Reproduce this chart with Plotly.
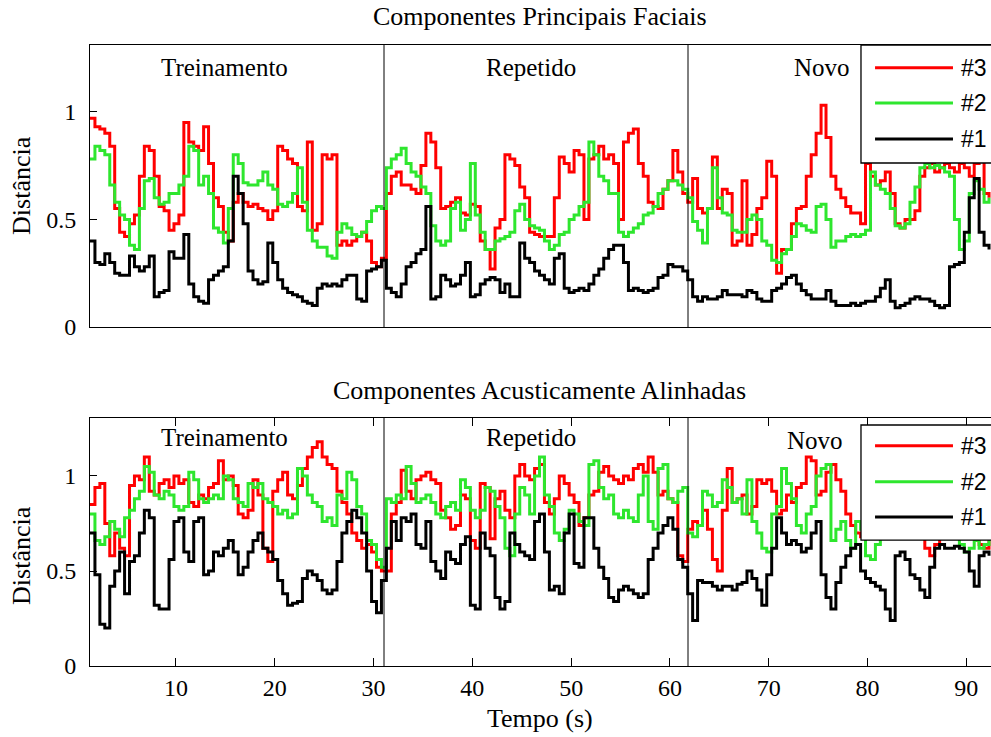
import plotly.graph_objects as go

# ---------------- data ----------------
# time base: one sample every 0.5 s starting at t = 1.3 s
T0 = 1.3
DT = 0.5

series_names = ["#3", "#2", "#1"]
series_colors = ["#ff0000", "#2ee62e", "#000000"]

segment_labels = ["Treinamento", "Repetido", "Novo"]
segment_bounds = [31.06, 61.83]

panel_titles = ["Componentes Principais Faciais", "Componentes Acusticamente Alinhadas"]
y_label = "Distância"
x_label = "Tempo (s)"

# Top panel: Componentes Principais Faciais
facial_3 = [
    0.97, 0.93, 0.92, 0.90, 0.84, 0.55, 0.44, 0.42, 0.48, 0.52,
    0.70, 0.84, 0.82, 0.70, 0.56, 0.54, 0.45, 0.48, 0.52, 0.95,
    0.86, 0.84, 0.82, 0.93, 0.76, 0.60, 0.56, 0.44, 0.40, 0.58,
    0.62, 0.58, 0.56, 0.57, 0.55, 0.54, 0.50, 0.54, 0.84, 0.82,
    0.78, 0.76, 0.56, 0.54, 0.86, 0.45, 0.48, 0.80, 0.78, 0.80,
    0.38, 0.40, 0.38, 0.40, 0.42, 0.44, 0.40, 0.30, 0.28, 0.32,
    0.62, 0.70, 0.72, 0.66, 0.66, 0.64, 0.62, 0.75, 0.90, 0.86,
    0.74, 0.55, 0.56, 0.58, 0.60, 0.53, 0.52, 0.57, 0.56, 0.40,
    0.36, 0.27, 0.46, 0.50, 0.80, 0.78, 0.75, 0.65, 0.60, 0.44,
    0.43, 0.42, 0.42, 0.42, 0.60, 0.79, 0.76, 0.72, 0.82, 0.80,
    0.50, 0.78, 0.80, 0.84, 0.78, 0.80, 0.76, 0.50, 0.86, 0.90,
    0.92, 0.76, 0.70, 0.58, 0.56, 0.55, 0.64, 0.68, 0.82, 0.72,
    0.62,
    0.58, 0.69, 0.55, 0.53, 0.55, 0.79, 0.55, 0.64, 0.62, 0.38,
    0.40, 0.68, 0.38, 0.43, 0.55, 0.60, 0.77, 0.70, 0.25, 0.36,
    0.36, 0.48, 0.55, 0.56, 0.70, 0.80, 0.90, 1.03, 0.88, 0.70,
    0.64, 0.60, 0.56, 0.53, 0.53, 0.48, 0.76, 0.70, 0.66, 0.68,
    0.72, 0.62, 0.48, 0.46, 0.50, 0.50, 0.54, 0.70, 0.74, 0.76,
    0.72, 0.74, 0.76, 0.74, 0.72, 0.76, 0.74, 0.70, 0.76, 0.78,
    0.62, 0.60,
]
facial_2 = [
    0.78, 0.84, 0.82, 0.80, 0.66, 0.58, 0.52, 0.50, 0.38, 0.36,
    0.55, 0.68, 0.69, 0.60, 0.57, 0.58, 0.62, 0.62, 0.66, 0.70,
    0.84, 0.82, 0.66, 0.70, 0.62, 0.46, 0.44, 0.39, 0.55, 0.80,
    0.76, 0.67, 0.66, 0.66, 0.68, 0.72, 0.66, 0.64, 0.57, 0.56,
    0.58, 0.62, 0.74, 0.58, 0.45, 0.40, 0.37, 0.37, 0.33, 0.32,
    0.44, 0.48, 0.46, 0.43, 0.42, 0.44, 0.49, 0.54, 0.56, 0.55,
    0.74, 0.78, 0.80, 0.83, 0.76, 0.72, 0.70, 0.65, 0.62, 0.47,
    0.40, 0.38, 0.40, 0.55, 0.58, 0.45, 0.50, 0.76, 0.52, 0.44,
    0.36, 0.36, 0.40, 0.41, 0.42, 0.44, 0.54, 0.57, 0.50, 0.47,
    0.46, 0.45, 0.40, 0.36, 0.38, 0.43, 0.44, 0.50, 0.52, 0.56,
    0.58, 0.86, 0.80, 0.70, 0.68, 0.62, 0.62, 0.44, 0.42, 0.44,
    0.46, 0.48, 0.52, 0.53, 0.56, 0.62, 0.64, 0.68, 0.68, 0.66,
    0.64,
    0.60, 0.49, 0.45, 0.39, 0.55, 0.74, 0.60, 0.53, 0.52, 0.45,
    0.44, 0.44, 0.50, 0.52, 0.50, 0.40, 0.38, 0.31, 0.30, 0.34,
    0.36, 0.42, 0.48, 0.47, 0.45, 0.44, 0.56, 0.57, 0.50, 0.37,
    0.40, 0.40, 0.42, 0.43, 0.42, 0.43, 0.45, 0.72, 0.66, 0.64,
    0.62, 0.55, 0.47, 0.46, 0.48, 0.58, 0.65, 0.74, 0.76, 0.74,
    0.75, 0.74, 0.72, 0.70, 0.50, 0.36, 0.40, 0.62, 0.68, 0.64,
    0.58, 0.60,
]
facial_1 = [
    0.40, 0.30, 0.29, 0.34, 0.30, 0.25, 0.24, 0.24, 0.33, 0.28,
    0.26, 0.28, 0.33, 0.14, 0.16, 0.17, 0.35, 0.32, 0.32, 0.43,
    0.20, 0.14, 0.12, 0.11, 0.22, 0.24, 0.26, 0.28, 0.40, 0.70,
    0.62, 0.48, 0.26, 0.22, 0.20, 0.21, 0.39, 0.30, 0.22, 0.18,
    0.16, 0.15, 0.14, 0.12, 0.11, 0.10, 0.18, 0.20, 0.19, 0.20,
    0.19, 0.22, 0.24, 0.24, 0.13, 0.12, 0.26, 0.27, 0.28, 0.31,
    0.18, 0.16, 0.14, 0.20, 0.28, 0.30, 0.34, 0.36, 0.56, 0.13,
    0.14, 0.24, 0.22, 0.19, 0.20, 0.24, 0.30, 0.14, 0.15, 0.20,
    0.22, 0.23, 0.22, 0.16, 0.20, 0.14, 0.14, 0.39, 0.32, 0.30,
    0.26, 0.24, 0.22, 0.20, 0.32, 0.34, 0.18, 0.16, 0.17, 0.18,
    0.17, 0.20, 0.24, 0.27, 0.32, 0.36, 0.38, 0.38, 0.30, 0.17,
    0.18, 0.17, 0.16, 0.17, 0.18, 0.23, 0.24, 0.29, 0.28, 0.28,
    0.26,
    0.22, 0.14, 0.12, 0.14, 0.13, 0.13, 0.14, 0.17, 0.15, 0.15,
    0.15, 0.14, 0.17, 0.16, 0.13, 0.12, 0.12, 0.17, 0.18, 0.20,
    0.23, 0.24, 0.20, 0.17, 0.15, 0.13, 0.13, 0.13, 0.17, 0.12,
    0.10, 0.10, 0.10, 0.11, 0.10, 0.11, 0.12, 0.12, 0.14, 0.18,
    0.22, 0.12, 0.09, 0.10, 0.11, 0.13, 0.14, 0.13, 0.13, 0.12,
    0.10, 0.09, 0.10, 0.28, 0.29, 0.30, 0.44, 0.60, 0.69, 0.44,
    0.38, 0.36,
]

# Bottom panel: Componentes Acusticamente Alinhadas
acoustic_3 = [
    0.85, 0.94, 0.96, 0.75, 0.58, 0.70, 0.62, 0.58, 0.95, 1.00,
    0.98, 1.10, 0.92, 0.90, 0.96, 0.98, 0.94, 1.00, 0.96, 0.98,
    0.86, 0.84, 0.90, 0.88, 0.94, 0.96, 1.08, 0.98, 1.00, 0.95,
    0.80, 0.78, 0.82, 0.98, 0.90, 0.62, 0.55, 0.92, 0.98, 1.02,
    0.90, 0.88, 0.95, 1.04, 1.10, 1.15, 1.18, 1.10, 1.06, 1.04,
    0.92, 0.86, 0.80, 0.70, 0.66, 0.62, 0.64, 0.60, 0.52, 0.50,
    0.50, 0.80, 0.86, 1.03, 0.92, 0.88, 0.98, 1.00, 1.02, 0.98,
    0.96, 0.82, 0.78, 0.72, 0.74, 0.90, 0.88, 0.66, 0.62, 0.96,
    0.94, 0.67, 0.88, 0.92, 0.82, 0.78, 1.00, 1.06, 1.00, 0.98,
    1.04, 1.06, 0.86, 0.80, 0.88, 1.00, 0.96, 0.90, 0.86, 0.74,
    0.78, 0.90, 0.92, 1.02, 1.05, 1.00, 0.98, 0.96, 1.00, 0.98,
    1.04, 1.06, 1.02, 1.10, 1.02, 0.90, 0.92, 0.88, 0.86, 0.58,
    0.55,
    0.72, 0.76, 0.74, 0.82, 0.72, 0.56, 0.50, 0.82, 1.04, 0.86,
    0.88, 0.90, 0.80, 0.84, 0.98, 0.96, 0.98, 0.92, 0.80, 0.82,
    0.90, 0.86, 0.94, 0.96, 1.10, 1.08, 0.90, 0.92, 1.02, 1.06,
    0.98, 0.92, 0.80, 0.74, 0.70, 0.68, 0.72, 0.76, 0.80, 0.78,
    0.74, 0.76, 0.72, 0.70, 0.74, 0.78, 0.76, 0.70, 0.62, 0.58,
    0.64, 0.72, 0.76, 0.74, 0.70, 0.68, 0.72, 0.74, 0.70, 0.64,
    0.62, 0.66,
]
acoustic_2 = [
    0.80, 0.66, 0.64, 0.68, 0.76, 0.72, 0.68, 0.78, 0.82, 0.88,
    0.92, 1.05, 1.02, 0.90, 0.88, 0.92, 0.90, 0.84, 0.82, 0.84,
    1.02, 0.98, 0.88, 0.86, 0.88, 0.90, 0.88, 1.00, 0.98, 0.88,
    0.86, 0.84, 0.96, 0.94, 0.96, 0.88, 0.86, 0.84, 0.80, 0.82,
    0.78, 0.80, 1.04, 1.00, 0.90, 0.86, 0.84, 0.76, 0.78, 0.74,
    0.90, 0.88, 1.02, 0.98, 0.84, 0.80, 0.66, 0.64, 0.56, 0.52,
    0.88, 0.86, 0.90, 0.88, 1.05, 0.96, 0.86, 0.88, 0.90, 0.86,
    0.80, 0.78, 0.84, 0.86, 0.82, 0.98, 0.94, 0.82, 0.78, 0.82,
    0.94, 0.92, 0.84, 0.78, 0.62, 0.58, 0.80, 0.94, 0.90, 0.80,
    1.00, 1.10, 0.90, 0.84, 0.70, 0.66, 0.72, 0.82, 0.80, 0.76,
    0.74, 1.06, 1.08, 0.94, 0.88, 0.90, 0.80, 0.78, 0.82, 0.78,
    0.76, 0.90, 1.00, 0.76, 0.72, 1.04, 1.06, 0.88, 0.86, 0.92,
    0.94,
    0.70, 0.68, 0.74, 0.92, 0.90, 0.84, 0.86, 0.98, 0.94, 0.86,
    0.88, 0.80, 0.98, 0.76, 0.70, 0.62, 0.60, 0.80, 0.84, 1.04,
    0.96, 0.88, 0.74, 0.70, 0.80, 0.84, 1.00, 1.04, 1.06, 0.66,
    0.72, 0.76, 0.66, 0.62, 0.76, 0.72, 0.58, 0.56, 0.64, 0.70,
    0.72, 0.74, 0.76, 0.78, 0.74, 0.72, 0.76, 0.74, 0.70, 0.72,
    0.74, 0.76, 0.72, 0.70, 0.68, 0.64, 0.60, 0.62, 0.66, 0.62,
    0.64, 0.68,
]
acoustic_1 = [
    0.70, 0.48, 0.22, 0.20, 0.42, 0.50, 0.60, 0.38, 0.55, 0.58,
    0.70, 0.82, 0.78, 0.32, 0.30, 0.30, 0.56, 0.76, 0.78, 0.60,
    0.55, 0.76, 0.78, 0.48, 0.50, 0.60, 0.58, 0.62, 0.66, 0.60,
    0.48, 0.52, 0.60, 0.66, 0.70, 0.62, 0.60, 0.56, 0.45, 0.38,
    0.32, 0.33, 0.34, 0.46, 0.50, 0.48, 0.45, 0.40, 0.38, 0.40,
    0.55, 0.70, 0.76, 0.82, 0.78, 0.70, 0.50, 0.34, 0.28, 0.45,
    0.62, 0.76, 0.66, 0.78, 0.76, 0.80, 0.64, 0.62, 0.76, 0.55,
    0.50, 0.46, 0.60, 0.56, 0.54, 0.64, 0.68, 0.32, 0.30, 0.70,
    0.62, 0.58, 0.36, 0.30, 0.34, 0.70, 0.64, 0.60, 0.58, 0.56,
    0.76, 0.80, 0.60, 0.40, 0.42, 0.38, 0.70, 0.80, 0.54, 0.52,
    0.78, 0.78, 0.62, 0.52, 0.46, 0.36, 0.34, 0.40, 0.42, 0.40,
    0.38, 0.36, 0.38, 0.56, 0.62, 0.70, 0.74, 0.78, 0.72, 0.56,
    0.52,
    0.38, 0.24, 0.45, 0.44, 0.44, 0.42, 0.40, 0.42, 0.42, 0.40,
    0.43, 0.44, 0.50, 0.46, 0.40, 0.32, 0.48, 0.62, 0.78, 0.70,
    0.64, 0.66, 0.64, 0.60, 0.62, 0.70, 0.76, 0.48, 0.36, 0.30,
    0.44, 0.52, 0.58, 0.62, 0.64, 0.50, 0.46, 0.44, 0.42, 0.40,
    0.30, 0.24, 0.58, 0.60, 0.56, 0.48, 0.46, 0.40, 0.36, 0.52,
    0.62, 0.64, 0.62, 0.62, 0.63, 0.62, 0.60, 0.50, 0.42, 0.58,
    0.60, 0.58,
]

panels = [
    [facial_3, facial_2, facial_1],
    [acoustic_3, acoustic_2, acoustic_1],
]

# ---------------- figure ----------------
SERIF = "Liberation Serif, Times New Roman, serif"
SANS = "Liberation Sans, Arial, sans-serif"
LINE_W = 3

fig = go.Figure()
axis_ids = [("x", "y"), ("x2", "y2")]
for (xa, ya), series in zip(axis_ids, panels):
    for name, color, vals in zip(series_names, series_colors, series):
        t = [round(T0 + DT * i, 3) for i in range(len(vals))]
        fig.add_trace(go.Scatter(
            x=t, y=vals, mode="lines", name=name,
            line=dict(color=color, width=LINE_W, shape="hv"),
            xaxis=xa, yaxis=ya, showlegend=False, hoverinfo="x+y+name",
        ))

X_RANGE = [1.3, 92.5]
common_x = dict(range=X_RANGE, showgrid=False, zeroline=False, showline=True,
                linecolor="black", linewidth=1, domain=[0, 1])
common_y = dict(showgrid=False, zeroline=False, showline=True, linecolor="black",
                linewidth=1, ticks="inside", ticklen=7, tickcolor="black",
                tickvals=[0, 0.5, 1], ticktext=["0", "0.5", "1"],
                tickfont=dict(family=SERIF, size=24, color="black"),
                ticklabelstandoff=8)

fig.update_layout(
    width=991, height=737,
    margin=dict(l=90, r=0, t=0, b=0, autoexpand=False),
    paper_bgcolor="white", plot_bgcolor="white",
    showlegend=False,
    xaxis=dict(**common_x, anchor="y", mirror=True, ticks="", showticklabels=False),
    yaxis=dict(**common_y, domain=[0.5563, 0.9389], range=[0, 1.31], anchor="x"),
    xaxis2=dict(**common_x, anchor="y2", mirror="ticks", ticks="inside", ticklen=8,
                tickcolor="black", tick0=0, dtick=10,
                tickfont=dict(family=SERIF, size=24, color="black"),
                ticklabelstandoff=0),
    yaxis2=dict(**common_y, domain=[0.0963, 0.4328], range=[0, 1.305], anchor="x2"),
)

shapes = []
annotations = []

# segment dividers
for xa, ya in axis_ids:
    for b in segment_bounds:
        shapes.append(dict(type="line", xref=xa, yref=f"{ya} domain", x0=b, x1=b, y0=0, y1=1,
                           line=dict(color="black", width=1), layer="above"))

# segment labels
label_pos = {
    "y": ([14.96, 45.94, 75.4], [1.205, 1.205, 1.205]),
    "y2": ([14.96, 45.94, 74.7], [1.20, 1.20, 1.185]),
}
for xa, ya in axis_ids:
    xs, ys = label_pos[ya]
    for lab, lx, ly in zip(segment_labels, xs, ys):
        annotations.append(dict(text=lab, xref=xa, yref=ya, x=lx, y=ly, showarrow=False,
                                xanchor="center", yanchor="middle",
                                font=dict(family=SERIF, size=25, color="black")))

# legends (drawn as boxes in each panel, clipped at the right edge like the original)
legend_geom = {
    "y": dict(box=(0.8557, 1.08, 0.5816, 1.0), rows=[0.9195, 0.7943, 0.6667]),
    "y2": dict(box=(0.8557, 1.08, 0.508, 0.9718), rows=[0.888, 0.743, 0.601]),
}
for xa, ya in axis_ids:
    g = legend_geom[ya]
    bx0, bx1, by0, by1 = g["box"]
    shapes.append(dict(type="rect", xref=f"{xa} domain", yref=f"{ya} domain",
                       x0=bx0, x1=bx1, y0=by0, y1=by1,
                       line=dict(color="black", width=1.3), fillcolor="white", layer="above"))
    for name, color, ry in zip(series_names, series_colors, g["rows"]):
        shapes.append(dict(type="line", xref=f"{xa} domain", yref=f"{ya} domain",
                           x0=0.8713, x1=0.9578, y0=ry, y1=ry,
                           line=dict(color=color, width=LINE_W), layer="above"))
        annotations.append(dict(text=name, xref=f"{xa} domain", yref=f"{ya} domain",
                                x=0.9645, y=ry, showarrow=False, xanchor="left", yanchor="middle",
                                font=dict(family=SANS, size=23, color="black")))

# panel titles and axis labels
annotations.append(dict(text=panel_titles[0], xref="paper", yref="paper", x=0.4994, y=0.977,
                        showarrow=False, xanchor="center", yanchor="middle",
                        font=dict(family=SERIF, size=26, color="black")))
annotations.append(dict(text=panel_titles[1], xref="paper", yref="paper", x=0.4994, y=0.4695,
                        showarrow=False, xanchor="center", yanchor="middle",
                        font=dict(family=SERIF, size=26, color="black")))
for yc in [0.749, 0.247]:
    annotations.append(dict(text=y_label, xref="paper", yref="paper", x=-0.0755, y=yc,
                            textangle=-90, showarrow=False, xanchor="center", yanchor="middle",
                            font=dict(family=SERIF, size=26, color="black")))
annotations.append(dict(text=x_label, xref="paper", yref="paper", x=0.4994, y=0.0245,
                        showarrow=False, xanchor="center", yanchor="middle",
                        font=dict(family=SERIF, size=26, color="black")))

fig.update_layout(shapes=shapes, annotations=annotations)

fig.write_html("out.html")
